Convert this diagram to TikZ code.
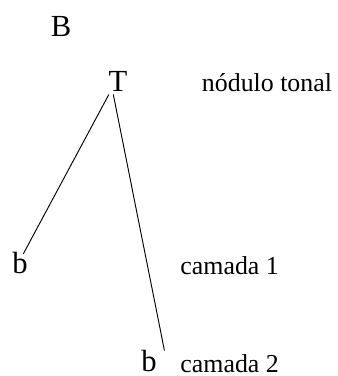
\documentclass[tikz,border=0pt]{standalone}
\usepackage{fontspec}
\setmainfont{Liberation Serif}
\usetikzlibrary{calc}
\begin{document}
\begin{tikzpicture}
  [x=0.75pt,y=-0.75pt,line width=0.7pt,
   letter/.style={inner sep=0pt,anchor=base,font=\fontsize{23}{27}\selectfont},
   layer/.style={inner sep=0pt,anchor=base west,font=\fontsize{19.4}{23}\selectfont}]
  \useasboundingbox (0,0) rectangle (337,376);
  \node[letter] (B)  at (61,36.7)  {B};
  \node[letter] (T)  at (118,91.7) {T};
  \node[letter] (b1) at (20,273.3) {b};
  \node[letter] (b2) at (149,371.3) {b};

  \node[layer] (lT) at (201.5,91.7) {nódulo tonal};
  \node[layer] (l1) at (180,274)    {camada 1};
  \node[layer] (l2) at (180,372)    {camada 2};

  \draw ($(T.south west)+(0.7,2.3)$) -- ($(b1.north)+(3.3,2.3)$);
  \draw ($(T.south)+(-4.7,2.3)$) -- ($(b2.north east)+(7.3,1)$);

\end{tikzpicture}
\end{document}
